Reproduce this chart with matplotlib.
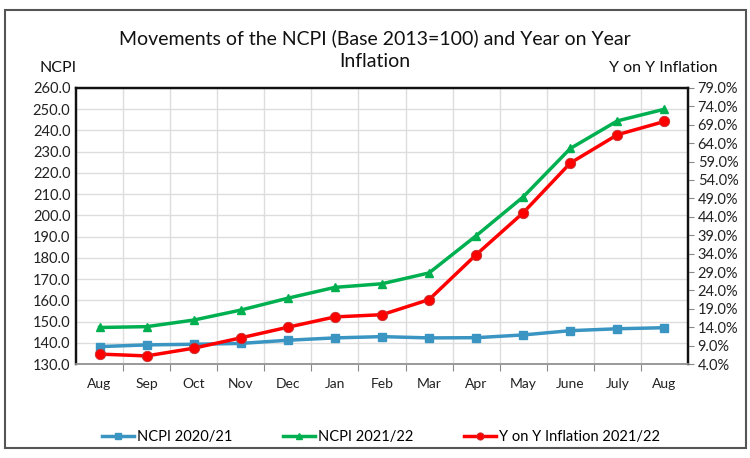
import matplotlib.pyplot as plt
from matplotlib.patches import Rectangle

# datos
meses = ["Aug", "Sep", "Oct", "Nov", "Dec", "Jan", "Feb", "Mar", "Apr", "May", "June", "July", "Aug"]
ncpi_2021 = [138.2, 139.0, 139.3, 139.7, 141.2, 142.3, 142.9, 142.3, 142.4, 143.7, 145.7, 146.6, 147.1]
ncpi_2122 = [147.2, 147.6, 150.7, 155.4, 161.0, 166.1, 167.8, 172.9, 190.4, 208.7, 231.5, 244.5, 250.0]
inflacion = [6.7, 6.2, 8.3, 11.1, 14.0, 16.8, 17.4, 21.5, 33.7, 45.1, 58.6, 66.3, 69.9]

plt.rcParams['font.family'] = ['Lato', 'DejaVu Sans']

AZUL = "#3A95C2"
VERDE = "#00B050"
ROJO = "#FF0000"

fig = plt.figure(figsize=(7.5, 4.58), dpi=100)
ax = fig.add_axes([0.1013, 0.2052, 0.816, 0.6027])
ax2 = ax.twinx()

x = range(len(meses))
l1, = ax.plot(x, ncpi_2021, color=AZUL, lw=2.5, marker="s", ms=6, label="NCPI 2020/21")
l2, = ax.plot(x, ncpi_2122, color=VERDE, lw=2.5, marker="^", ms=6, label="NCPI 2021/22")
l3, = ax2.plot(x, inflacion, color=ROJO, lw=2.5, marker="o", ms=7.5, mec="#C03030", mew=0.6,
               label="Y on Y Inflation 2021/22")

ax.set_xlim(-0.5, len(meses) - 0.5)
ax.set_ylim(130, 260)
ax.set_yticks(range(130, 261, 10))
ax.set_yticklabels([f"{v:.1f}" for v in range(130, 261, 10)])
ax2.set_ylim(4, 79)
ax2.set_yticks(range(4, 80, 5))
ax2.set_yticklabels([f"{v:.1f}%" for v in range(4, 80, 5)])

# rejilla: líneas verticales entre categorías
ax.set_xticks([i + 0.5 for i in range(len(meses) - 1)], minor=False)
ax.set_xticklabels([])
ax.set_xticks(list(x), minor=True)
ax.set_xticklabels(meses, minor=True)
ax.tick_params(axis="x", which="minor", length=0, pad=10, labelsize=10, colors="#222222")
ax.tick_params(axis="x", which="major", length=5, color="#888888", direction="out")
ax.tick_params(axis="y", length=0, labelsize=10.5, pad=4, colors="#222222")
ax2.tick_params(axis="y", length=4, color="#888888", labelsize=10.5, pad=3, colors="#222222")
ax.grid(True, which="major", color="#DDDDDD", lw=1)
ax.set_axisbelow(True)

for a in (ax, ax2):
    for lado in ("top", "left", "right"):
        a.spines[lado].set_color("#111111")
        a.spines[lado].set_linewidth(1.6)
    a.spines["bottom"].set_color("#999999")
    a.spines["bottom"].set_linewidth(1.2)

# título en dos líneas separadas
fig.text(0.5, 0.917, "Movements of the NCPI (Base 2013=100) and Year on Year",
         ha="center", va="center", fontsize=14, color="#111111")
fig.text(0.5, 0.865, "Inflation", ha="center", va="center", fontsize=14, color="#111111")
fig.text(0.078, 0.852, "NCPI", ha="center", va="center", fontsize=11.5, color="#111111")
fig.text(0.957, 0.852, "Y on Y Inflation", ha="right", va="center", fontsize=11.5, color="#111111")

fig.legend(handles=[l1, l2, l3], loc="center", bbox_to_anchor=(0.508, 0.046), ncol=3,
           frameon=False, fontsize=10.5, columnspacing=3.5, handlelength=2.2, handletextpad=0.2,
           markerscale=0.7)

# marco exterior
fig.patches.append(Rectangle((0.007, 0.022), 0.987, 0.956, transform=fig.transFigure,
                             fill=False, edgecolor="#555555", lw=1.5))

fig.savefig("out.png", dpi=100)
